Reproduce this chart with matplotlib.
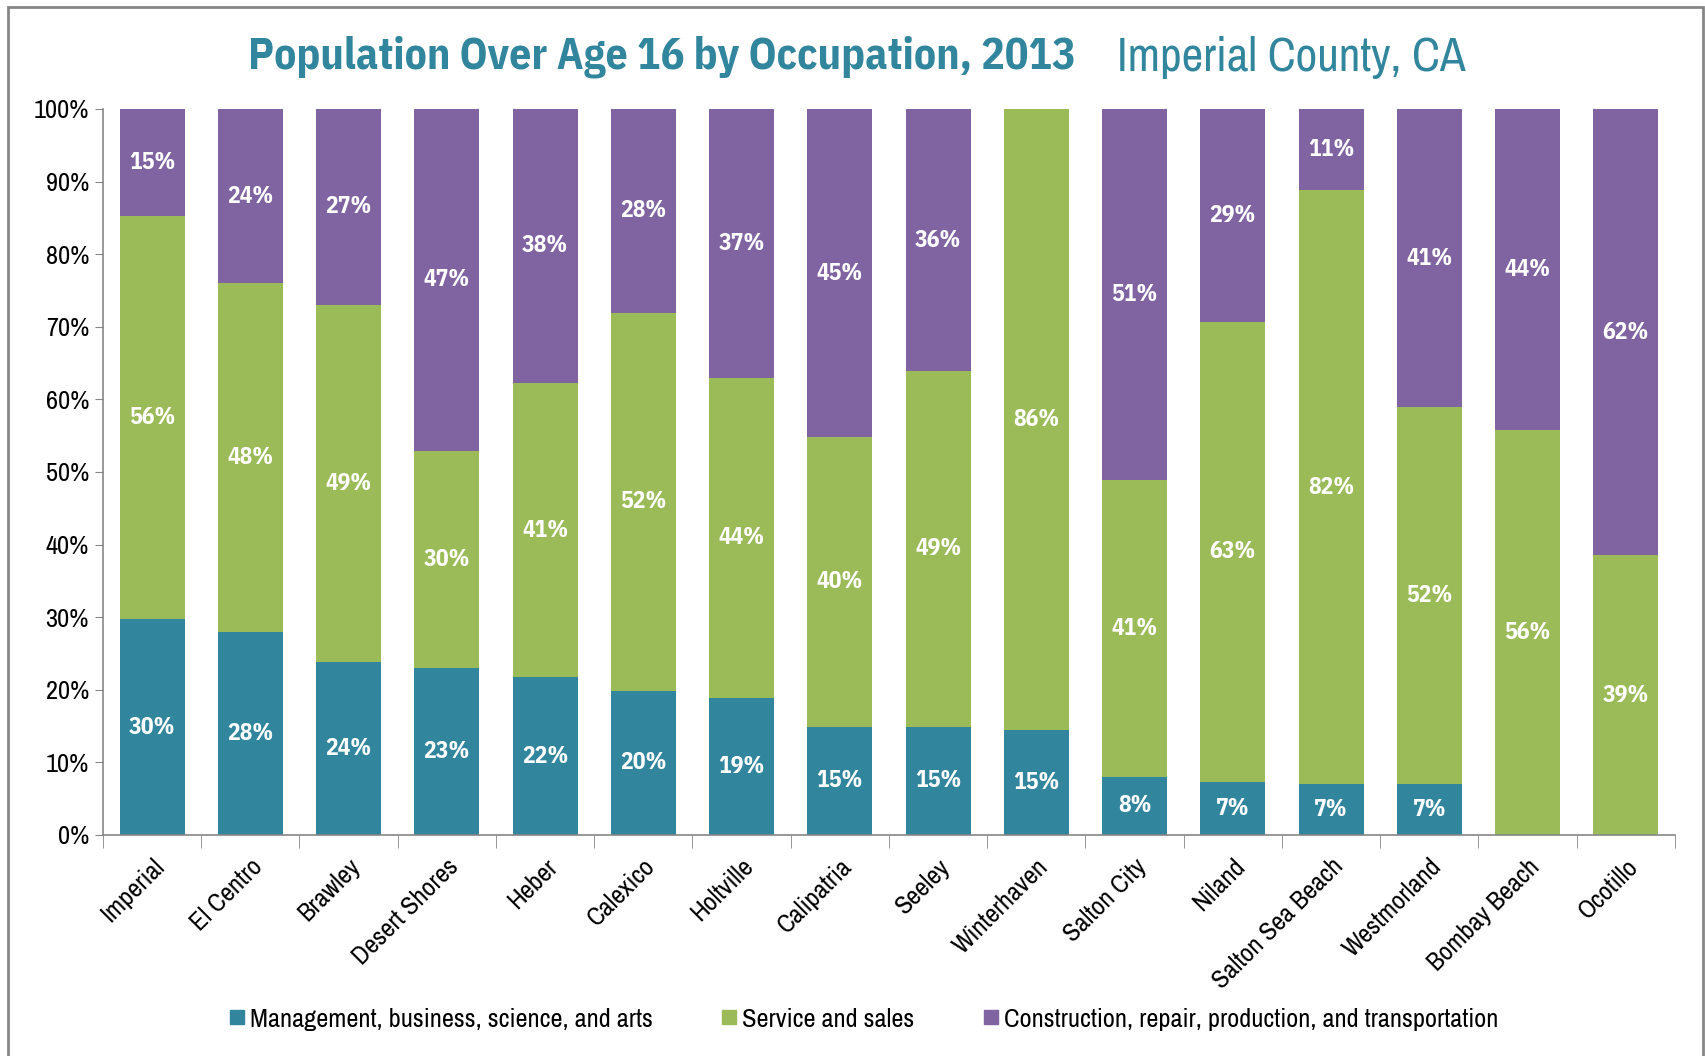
import numpy as np
import matplotlib
matplotlib.use("Agg")
import matplotlib.pyplot as plt
from matplotlib.lines import Line2D
from matplotlib.patches import Rectangle

plt.rcParams['font.family'] = ['Archivo Narrow', 'Liberation Sans', 'DejaVu Sans']
bold_family = ['IBM Plex Sans Condensed', 'Liberation Sans', 'DejaVu Sans']

# data (percent of population over age 16)
places = ["Imperial", "El Centro", "Brawley", "Desert Shores", "Heber", "Calexico",
          "Holtville", "Calipatria", "Seeley", "Winterhaven", "Salton City", "Niland",
          "Salton Sea Beach", "Westmorland", "Bombay Beach", "Ocotillo"]
mgmt = [29.7, 27.9, 23.8, 23.0, 21.7, 19.9, 18.9, 14.9, 14.9, 14.5, 8.0, 7.3, 7.0, 7.0, 0, 0]
service = [55.5, 48.1, 49.2, 29.9, 40.6, 52.0, 44.1, 39.9, 49.0, 85.5, 40.9, 63.4, 81.8, 51.9, 55.8, 38.5]
constr = [14.8, 24.0, 27.0, 47.1, 37.7, 28.1, 37.0, 45.2, 36.1, 0, 51.1, 29.3, 11.2, 41.1, 44.2, 61.5]
series_names = ["Management, business, science, and arts", "Service and sales",
                "Construction, repair, production, and transportation"]
colors = ["#31859C", "#9BBB59", "#8064A2"]

fig = plt.figure(figsize=(17.05, 10.56), dpi=100)
ax = fig.add_axes([0.0604, 0.2093, 0.922, 0.6875])

x = np.arange(len(places))
bottom = np.zeros(len(places))
for vals, col in zip([mgmt, service, constr], colors):
    vals = np.array(vals, dtype=float)
    ax.bar(x, vals, 0.66, bottom=bottom, color=col, edgecolor='none')
    for xi, b, v in zip(x, bottom, vals):
        if v > 0:
            ax.text(xi, b + v / 2, "%d%%" % np.floor(v + 0.5), ha='center', va='center',
                    color='white', fontsize=17, fontweight='bold', family=bold_family)
    bottom += vals

ax.set_xlim(-0.5, len(places) - 0.5)
ax.set_ylim(0, 100)
ax.set_yticks(np.arange(0, 101, 10))
ax.set_yticklabels(["%d%%" % v for v in range(0, 101, 10)], fontsize=19)
ax.set_xticks(x)
ax.set_xticklabels(places, rotation=45, ha='right', va='top', rotation_mode='anchor', fontsize=19)
ax.set_xticks(np.arange(-0.5, len(places), 1), minor=True)
ax.tick_params(axis='x', which='major', length=0, pad=14)
ax.tick_params(axis='x', which='minor', length=9, color='#868686', direction='out')
ax.tick_params(axis='y', length=6, color='#868686', pad=4)
for s in ['top', 'right']:
    ax.spines[s].set_visible(False)
for s in ['left', 'bottom']:
    ax.spines[s].set_color('#868686')
    ax.spines[s].set_linewidth(1.2)

fig.text(0.1455, 0.946, "Population Over Age 16 by Occupation, 2013", color='#31859C',
         fontsize=31.5, fontweight='bold', va='center', ha='left', family=bold_family)
fig.text(0.655, 0.946, "Imperial County, CA", color='#31859C',
         fontsize=34, va='center', ha='left')

handles = [Line2D([], [], marker='s', linestyle='none', markersize=10, color=c) for c in colors]
fig.legend(handles, series_names, loc='center', bbox_to_anchor=(0.505, 0.035), ncol=3,
           frameon=False, fontsize=19, handletextpad=0.0, columnspacing=2.4, handlelength=1.0)

fig.add_artist(Rectangle((0.0047, -0.02), 0.994, 1.0134, transform=fig.transFigure,
                         fill=False, edgecolor='#868686', linewidth=2))

fig.savefig("out.png", dpi=100)
